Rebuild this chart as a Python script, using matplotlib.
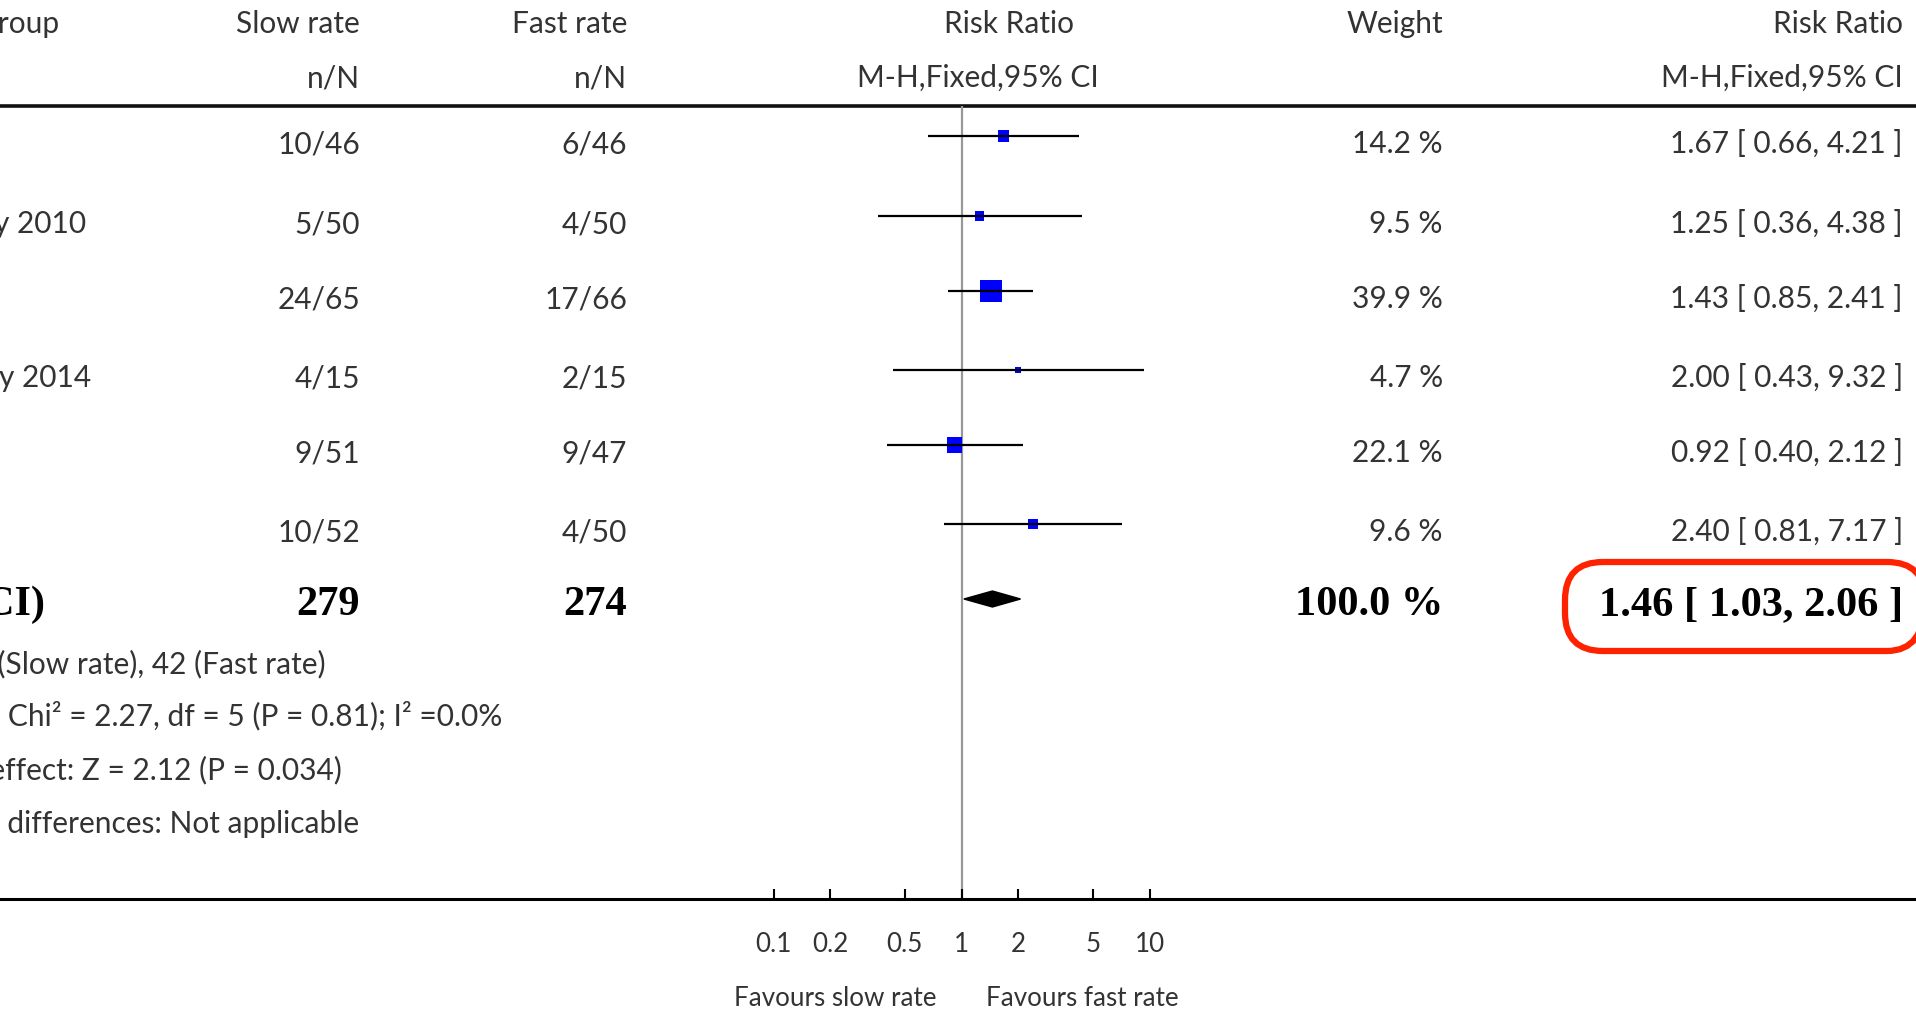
import matplotlib.pyplot as plt
import numpy as np
from matplotlib.patches import FancyBboxPatch, Polygon
from matplotlib.ticker import FixedLocator, FixedFormatter, NullLocator

# data
study_frag = ['', 'y 2010', '', 'ay 2014', '', '']
slow_events = [10, 5, 24, 4, 9, 10]
slow_total = [46, 50, 65, 15, 51, 52]
fast_events = [6, 4, 17, 2, 9, 4]
fast_total = [46, 50, 66, 15, 47, 50]
weights = [14.2, 9.5, 39.9, 4.7, 22.1, 9.6]
rr = [1.67, 1.25, 1.43, 2.00, 0.92, 2.40]
ci_low = [0.66, 0.36, 0.85, 0.43, 0.40, 0.81]
ci_high = [4.21, 4.38, 2.41, 9.32, 2.12, 7.17]
total_rr, total_low, total_high = 1.46, 1.03, 2.06
total_weight = 100.0
tick_values = [0.1, 0.2, 0.5, 1, 2, 5, 10]
tick_labels = ['0.1', '0.2', '0.5', '1', '2', '5', '10']
footnotes = [
    'Total events: 62 (Slow rate), 42 (Fast rate)',
    'Heterogeneity: Chi\u00b2 = 2.27, df = 5 (P = 0.81); I\u00b2 =0.0%',
    'Test for overall effect: Z = 2.12 (P = 0.034)',
    'Test for subgroup differences: Not applicable',
]

W, H = 1916, 1013
SANS = 'Lato'
SERIF = 'Liberation Serif'
txt_col = '#333333'
fs = 21.5
fs_bold = 30.5

fig = plt.figure(figsize=(W / 100, H / 100), dpi=100, facecolor='white')

# text layer in pixel coordinates (y downwards)
tx = fig.add_axes([0, 0, 1, 1])
tx.set_xlim(0, W)
tx.set_ylim(H, 0)
tx.axis('off')

# forest layer: log x scale, same pixel y
x_one, decade = 961.5, 188.0
ax = fig.add_axes([0, 0, 1, 1], sharey=tx)
ax.set_xscale('log')
ax.set_xlim(10 ** (-x_one / decade), 10 ** ((W - x_one) / decade))
ax.patch.set_visible(False)
for s in ['top', 'left', 'right']:
    ax.spines[s].set_visible(False)
axis_y = 899
ax.spines['bottom'].set_position(('data', axis_y))
ax.spines['bottom'].set_linewidth(2.2)
ax.xaxis.set_major_locator(FixedLocator(tick_values))
ax.xaxis.set_major_formatter(FixedFormatter(tick_labels))
ax.xaxis.set_minor_locator(NullLocator())
ax.tick_params(axis='x', direction='in', length=7.5, width=1.5, pad=24,
               labelsize=fs * 0.87, labelcolor=txt_col)
for lab in ax.get_xticklabels():
    lab.set_fontfamily(SANS)
ax.yaxis.set_visible(False)

# header
head1_y, head2_y, line_y = 24, 78, 106
tx.text(360, head1_y, 'Slow rate', ha='right', va='center', fontsize=fs, family=SANS, color=txt_col)
tx.text(627, head1_y, 'Fast rate', ha='right', va='center', fontsize=fs, family=SANS, color=txt_col)
tx.text(1009, head1_y, 'Risk Ratio', ha='center', va='center', fontsize=fs, family=SANS, color=txt_col)
tx.text(1443, head1_y, 'Weight', ha='right', va='center', fontsize=fs, family=SANS, color=txt_col)
tx.text(1903, head1_y, 'Risk Ratio', ha='right', va='center', fontsize=fs, family=SANS, color=txt_col)
tx.text(59, head1_y, 'Study or subgroup', ha='right', va='center', fontsize=fs, family=SANS, color=txt_col)
tx.text(360, head2_y, 'n/N', ha='right', va='center', fontsize=fs, family=SANS, color=txt_col)
tx.text(627, head2_y, 'n/N', ha='right', va='center', fontsize=fs, family=SANS, color=txt_col)
tx.text(978, head2_y, 'M-H,Fixed,95% CI', ha='center', va='center', fontsize=fs, family=SANS, color=txt_col)
tx.text(1903, head2_y, 'M-H,Fixed,95% CI', ha='right', va='center', fontsize=fs, family=SANS, color=txt_col)
tx.axhline(line_y, color='#111111', lw=2.6)

# study rows
row_y = [144, 224, 299, 378, 453, 532]
name_right = [0, 86, 0, 91, 0, 0]
mark_off = 8
for i, y in enumerate(row_y):
    if study_frag[i]:
        tx.text(name_right[i], y, study_frag[i], ha='right', va='center', fontsize=fs,
                family=SANS, color=txt_col)
    tx.text(360, y, f'{slow_events[i]}/{slow_total[i]}', ha='right', va='center',
            fontsize=fs, family=SANS, color=txt_col)
    tx.text(627, y, f'{fast_events[i]}/{fast_total[i]}', ha='right', va='center',
            fontsize=fs, family=SANS, color=txt_col)
    tx.text(1443, y, f'{weights[i]:.1f} %', ha='right', va='center',
            fontsize=fs, family=SANS, color=txt_col)
    tx.text(1903, y, f'{rr[i]:.2f} [ {ci_low[i]:.2f}, {ci_high[i]:.2f} ]', ha='right', va='center',
            fontsize=fs, family=SANS, color=txt_col)

ym = np.array(row_y) - mark_off
w = np.array(weights)
side_px = 22 * (w / w.max()) ** 0.62
ax.scatter(rr, ym, marker='s', s=(side_px * 0.72) ** 2, color='#0000ff', linewidths=0, zorder=2)
ax.hlines(ym, ci_low, ci_high, color='black', lw=1.6, zorder=3)

# null line
ax.vlines(1, line_y, axis_y, color='#999999', lw=1.6, zorder=1)

# total row
tot_y = 605
tx.text(45, tot_y, 'Total (95% CI)', ha='right', va='center', fontsize=fs_bold,
        family=SERIF, fontweight='bold', color='black')
tx.text(360, tot_y, f'{sum(slow_total)}', ha='right', va='center', fontsize=fs_bold,
        family=SERIF, fontweight='bold', color='black')
tx.text(627, tot_y, f'{sum(fast_total)}', ha='right', va='center', fontsize=fs_bold,
        family=SERIF, fontweight='bold', color='black')
tx.text(1443, tot_y, f'{total_weight:.1f} %', ha='right', va='center', fontsize=fs_bold,
        family=SERIF, fontweight='bold', color='black')
tx.text(1903, tot_y, f'{total_rr:.2f} [ {total_low:.2f}, {total_high:.2f} ]', ha='right',
        va='center', fontsize=fs_bold, family=SERIF, fontweight='bold', color='black')
dy = tot_y - 6
ax.add_patch(Polygon([(total_low, dy), (total_rr, dy - 8), (total_high, dy), (total_rr, dy + 8)],
                     closed=True, color='black', zorder=3))

box = FancyBboxPatch((1565, 562), 360, 89, boxstyle='round,pad=0,rounding_size=38',
                     fill=False, edgecolor='#ff2200', lw=4.5, zorder=4)
tx.add_patch(box)

# footnotes, cut at the left edge like the source
foot_y = [664, 716, 770, 824]
foot_right = [326, 502, 342, 359]
for t, y, xr in zip(footnotes, foot_y, foot_right):
    tx.text(xr, y, t, ha='right', va='center', fontsize=fs, family=SANS, color=txt_col)

# favours labels
tx.text(835, 998, 'Favours slow rate', ha='center', va='center', fontsize=fs * 0.87, family=SANS, color=txt_col)
tx.text(1082, 998, 'Favours fast rate', ha='center', va='center', fontsize=fs * 0.87, family=SANS, color=txt_col)

plt.savefig('out.png', dpi=100, facecolor='white')
